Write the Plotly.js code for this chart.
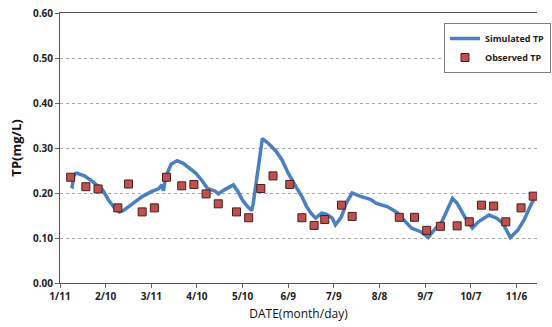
<!DOCTYPE html>
<html>
<head>
<meta charset="utf-8">
<script src="https://cdn.plot.ly/plotly-3.0.1.min.js"></script>
<style>html,body{margin:0;padding:0;background:#fff;}#chart{width:552px;height:327px;}</style>
</head>
<body>
<div id="chart"></div>
<script>
const tickLabels = ["1/11","2/10","3/11","4/10","5/10","6/9","7/9","8/8","9/7","10/7","11/6"];
const tickDates = ["2012-01-11","2012-02-10","2012-03-11","2012-04-10","2012-05-10","2012-06-09","2012-07-09","2012-08-08","2012-09-07","2012-10-07","2012-11-06"];

const simDates = ["2012-01-18","2012-01-19","2012-01-20","2012-01-21","2012-01-22","2012-01-27","2012-01-31","2012-02-05","2012-02-08","2012-02-12","2012-02-16","2012-02-19","2012-02-22","2012-02-28","2012-03-05","2012-03-11","2012-03-16","2012-03-18","2012-03-19","2012-03-20","2012-03-21","2012-03-24","2012-03-28","2012-04-01","2012-04-05","2012-04-09","2012-04-13","2012-04-17","2012-04-22","2012-04-24","2012-04-28","2012-05-04","2012-05-07","2012-05-10","2012-05-13","2012-05-16","2012-05-17","2012-05-19","2012-05-21","2012-05-23","2012-05-27","2012-06-01","2012-06-05","2012-06-09","2012-06-14","2012-06-18","2012-06-21","2012-06-24","2012-06-27","2012-07-01","2012-07-04","2012-07-08","2012-07-10","2012-07-14","2012-07-17","2012-07-21","2012-07-26","2012-08-02","2012-08-06","2012-08-13","2012-08-19","2012-08-24","2012-08-29","2012-09-04","2012-09-09","2012-09-13","2012-09-18","2012-09-22","2012-09-25","2012-09-28","2012-10-03","2012-10-08","2012-10-12","2012-10-19","2012-10-24","2012-10-28","2012-11-02","2012-11-07","2012-11-11","2012-11-15","2012-11-19"];
const simTP = [0.216,0.214,0.238,0.243,0.244,0.238,0.229,0.216,0.207,0.184,0.166,0.158,0.162,0.177,0.192,0.203,0.210,0.218,0.205,0.228,0.240,0.264,0.272,0.266,0.255,0.245,0.229,0.210,0.204,0.198,0.207,0.218,0.203,0.184,0.171,0.161,0.177,0.222,0.270,0.321,0.310,0.293,0.273,0.244,0.214,0.192,0.170,0.155,0.144,0.155,0.153,0.144,0.129,0.147,0.177,0.200,0.193,0.186,0.177,0.170,0.158,0.140,0.122,0.114,0.101,0.118,0.136,0.166,0.188,0.177,0.147,0.122,0.136,0.151,0.144,0.133,0.101,0.118,0.140,0.170,0.196];

const obsDates = ["2012-01-18","2012-01-28","2012-02-05","2012-02-18","2012-02-25","2012-03-05","2012-03-13","2012-03-21","2012-03-31","2012-04-08","2012-04-16","2012-04-24","2012-05-06","2012-05-14","2012-05-22","2012-05-30","2012-06-10","2012-06-18","2012-06-26","2012-07-03","2012-07-14","2012-07-21","2012-08-21","2012-08-31","2012-09-08","2012-09-17","2012-09-28","2012-10-06","2012-10-14","2012-10-22","2012-10-30","2012-11-09","2012-11-17"];
const obsTP = [0.235,0.214,0.209,0.167,0.220,0.158,0.167,0.235,0.216,0.219,0.198,0.176,0.158,0.145,0.210,0.238,0.219,0.145,0.128,0.141,0.173,0.148,0.146,0.146,0.117,0.126,0.127,0.136,0.173,0.171,0.136,0.167,0.193];

const yTicks = [0,0.1,0.2,0.3,0.4,0.5,0.6];
const yTickLabels = ["0.00","0.10","0.20","0.30","0.40","0.50","0.60"];

const fontFam = "Open Sans, sans-serif";

const traces = [
  {x: simDates, y: simTP, name: "Simulated TP", type: "scatter", mode: "lines",
   line: {color: "#4a7fc1", width: 3.5}},
  {x: obsDates, y: obsTP, name: "Observed TP", type: "scatter", mode: "markers",
   marker: {symbol: "square", size: 8, color: "#c0504d", line: {color: "#4a1c1c", width: 1}}}
];

const layout = {
  width: 552, height: 327,
  margin: {l: 60, r: 1, t: 13, b: 44},
  paper_bgcolor: "#fff", plot_bgcolor: "#fff",
  showlegend: true,
  legend: {x: 0.805, y: 0.963, xanchor: "left", yanchor: "top",
    bordercolor: "#7f7f7f", borderwidth: 1, bgcolor: "#fff",
    font: {family: fontFam, size: 9, color: "#222", weight: "bold"},
    tracegroupgap: 0, itemwidth: 30},
  xaxis: {
    type: "date",
    range: ["2012-01-11", "2012-11-19 12:00"],
    tickvals: tickDates, ticktext: tickLabels,
    ticks: "outside", ticklen: 4, tickcolor: "#666",
    showline: true, linecolor: "#555", linewidth: 1, mirror: true,
    showgrid: false, zeroline: false,
    tickfont: {family: fontFam, size: 10, color: "#222", weight: "bold"},
    title: {text: "DATE(month/day)", font: {family: fontFam, size: 12, color: "#111"}, standoff: 7}
  },
  yaxis: {
    range: [0, 0.6],
    tickvals: yTicks, ticktext: yTickLabels,
    ticks: "outside", ticklen: 4, tickcolor: "#666",
    showline: true, linecolor: "#555", linewidth: 1,
    showgrid: true, gridcolor: "#a6a6a6", griddash: "dot", gridwidth: 1,
    zeroline: false,
    tickfont: {family: fontFam, size: 10, color: "#222", weight: "bold"},
    title: {text: "TP(mg/L)", font: {family: fontFam, size: 13, color: "#111", weight: "bold"}, standoff: 8}
  }
};

Plotly.newPlot("chart", traces, layout, {displayModeBar: false, staticPlot: true});
</script>
</body>
</html>
